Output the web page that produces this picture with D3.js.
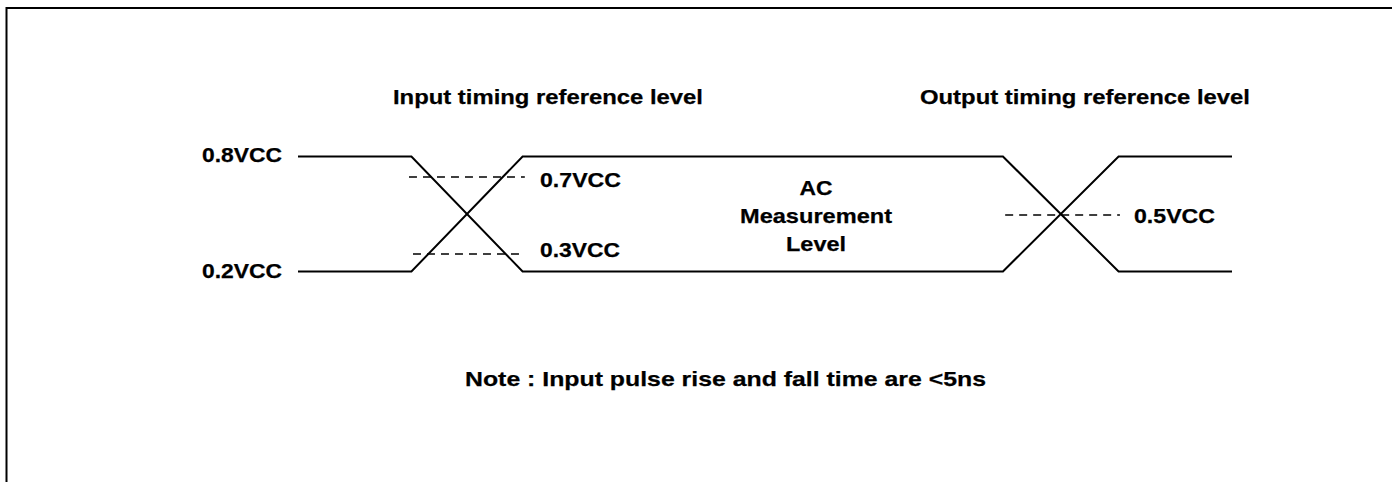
<!DOCTYPE html>
<html>
<head>
<meta charset="utf-8">
<script src="https://cdn.jsdelivr.net/npm/d3@7/dist/d3.min.js"></script>
<style>
  html, body { margin: 0; padding: 0; background: #fff; }
  svg { display: block; }
  text { font-family: "Liberation Sans", Arial, Helvetica, sans-serif; font-weight: bold; font-size: 21px; fill: #000; stroke: #000; stroke-width: 0.25px; }
</style>
</head>
<body>
<svg id="chart" width="1392" height="482"></svg>
<script>
// ---- data ----
const edgeTimes = [0, 5.1, 10.1, 31.7, 36.9, 42];
const signalA   = [0.8, 0.8, 0.2, 0.2, 0.8, 0.8];
const signalB   = [0.2, 0.2, 0.8, 0.8, 0.2, 0.2];

const railLevels = [0.8, 0.2];
const railLabels = ["0.8VCC", "0.2VCC"];

const refLevels = [0.7, 0.3, 0.5];
const refLabels = ["0.7VCC", "0.3VCC", "0.5VCC"];
const refStart  = [4.99, 5.17, 31.8];
const refEnd    = [10.2, 10.2, 36.96];

const titleLabels = ["Input timing reference level", "Output timing reference level"];
const centerLabels = ["AC", "Measurement", "Level"];
const noteLabel = "Note : Input pulse rise and fall time are <5ns";

// ---- layout ----
const W = 1392, H = 482;
const svg = d3.select("#chart");

const x = d3.scaleLinear().domain([0, 42]).range([298, 1232]);
const y = d3.scaleLinear().domain([0.2, 0.8]).range([271.5, 156.5]);

// frame (only top & left edges visible)
svg.append("rect")
  .attr("x", 6.5).attr("y", 8)
  .attr("width", W + 20).attr("height", H + 20)
  .attr("fill", "none").attr("stroke", "#000").attr("stroke-width", 2);

const line = d3.line().x(d => x(d[0])).y(d => y(d[1]));

[signalA, signalB].forEach(sig => {
  svg.append("path")
    .attr("d", line(edgeTimes.map((t, i) => [t, sig[i]])))
    .attr("fill", "none")
    .attr("stroke", "#000")
    .attr("stroke-width", 2)
    .attr("stroke-linejoin", "miter");
});

// dashed reference lines
const refYOffset = [1.3, 1.7, 1];
refLevels.forEach((lv, i) => {
  svg.append("line")
    .attr("x1", x(refStart[i])).attr("x2", x(refEnd[i]))
    .attr("y1", y(lv) + refYOffset[i]).attr("y2", y(lv) + refYOffset[i])
    .attr("stroke", "#000")
    .attr("stroke-width", 1.6)
    .attr("stroke-dasharray", "8,6");
});

function label(txt, x0, y0, w) {
  svg.append("text")
    .attr("x", x0).attr("y", y0)
    .attr("textLength", w).attr("lengthAdjust", "spacingAndGlyphs")
    .text(txt);
}

// rail labels
const railBase = [5.5, 6.5];
railLevels.forEach((lv, i) => label(railLabels[i], x(0) - 96, y(lv) + railBase[i], 80));

// ref labels
const refLabelX = [540, 540, 1134];
const refLabelY = [187, 257, 223];
const refLabelW = [81, 80, 81];
refLabels.forEach((t, i) => label(t, refLabelX[i], refLabelY[i], refLabelW[i]));

// titles
const titleX = [393, 920];
const titleW = [310, 330];
titleLabels.forEach((t, i) => label(t, titleX[i], 104, titleW[i]));

// center block
const centerY = [195, 223, 251];
const centerW = [33, 152, 60];
centerLabels.forEach((t, i) => label(t, 816 - centerW[i] / 2, centerY[i], centerW[i]));

// note
label(noteLabel, 465, 386, 521);
</script>
</body>
</html>
